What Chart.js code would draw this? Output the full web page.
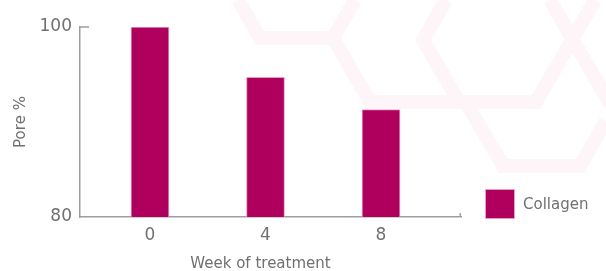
<!DOCTYPE html>
<html>
<head>
<meta charset="utf-8">
<script src="https://cdn.jsdelivr.net/npm/chart.js@4.4.1/dist/chart.umd.min.js"></script>
<style>
  html, body { margin: 0; padding: 0; background: #ffffff; }
  #wrap { position: relative; width: 606px; height: 271px; overflow: hidden; }
  #bg { position: absolute; left: 0; top: 0; }
  #c { position: absolute; left: 0; top: 0; }
</style>
</head>
<body>
<div id="wrap">
  <svg id="bg" width="606" height="271" viewBox="0 0 606 271">
    <g fill="none" stroke="#fef5f8" stroke-width="14" stroke-linejoin="miter">
      <polyline points="238,0 260,38 333,38 355,0"/>
      <polyline points="333,38 370,102 536,102 595,0"/>
      <polyline points="550,0 573,40 612,107"/>
      <polyline points="446,0 423,40 459,102"/>
      <polyline points="466,102 503,166 580,166 606,121"/>
    </g>
  </svg>
  <canvas id="c" width="606" height="271"></canvas>
</div>
<script>
// ---- data ----
const weeks = [0, 4, 8];
const weekLabels = ['0', '4', '8'];
const collagen = [100, 94.7, 91.3];
const yTicks = [80, 100];
const seriesName = 'Collagen';
const yTitle = 'Pore %';
const xTitle = 'Week of treatment';

// ---- style ----
const FONT = 'DejaVu Sans';
const TXT = '#707070';
const AXIS = '#9e9e9e';
const BAR = '#af005e';
const BAR_EDGE = '#e79cc3';

const decoPlugin = {
  id: 'deco',
  afterDraw(chart) {
    const ctx = chart.ctx;
    const ca = chart.chartArea;
    const ys = chart.scales.y;
    ctx.save();
    ctx.strokeStyle = AXIS;
    ctx.lineWidth = 1.5;
    const yTop = ys.getPixelForValue(yTicks[yTicks.length - 1]);
    ctx.beginPath();
    ctx.moveTo(ca.left, yTop);
    ctx.lineTo(ca.left + 9, yTop);
    ctx.stroke();
    ctx.beginPath();
    ctx.moveTo(ca.right - 0.75, ca.bottom);
    ctx.lineTo(ca.right - 0.75, ca.bottom - 4);
    ctx.stroke();
    ctx.fillStyle = TXT;
    ctx.font = '15px "' + FONT + '"';
    ctx.textAlign = 'center';
    ctx.textBaseline = 'alphabetic';
    ctx.fillText(xTitle, (ca.left + ca.right) / 2 - 10, 267.5);
    const ds = chart.data.datasets[0];
    const bx = ca.right + 24, by = ca.bottom - 28, bs = 30;
    ctx.fillStyle = ds.backgroundColor;
    ctx.fillRect(bx, by, bs, bs);
    ctx.strokeStyle = BAR_EDGE;
    ctx.lineWidth = 1;
    ctx.strokeRect(bx + 0.5, by + 0.5, bs - 1, bs - 1);
    ctx.fillStyle = TXT;
    ctx.textAlign = 'left';
    ctx.textBaseline = 'middle';
    ctx.fillText(ds.label, bx + bs + 8, by + bs / 2 + 1);
    ctx.restore();
  }
};

new Chart(document.getElementById('c'), {
  type: 'bar',
  data: {
    datasets: [{
      label: seriesName,
      data: weeks.map((w, i) => ({ x: w, y: collagen[i] })),
      backgroundColor: BAR,
      borderColor: BAR_EDGE,
      borderWidth: 1,
      barThickness: 38
    }]
  },
  options: {
    responsive: false,
    devicePixelRatio: 1,
    animation: false,
    layout: { padding: { left: 0, top: 27, right: 145, bottom: 0 } },
    plugins: { legend: { display: false }, tooltip: { enabled: false } },
    scales: {
      x: {
        type: 'linear',
        offset: false,
        min: -2.424,
        max: 10.77,
        afterBuildTicks: s => { s.ticks = weeks.map(v => ({ value: v })); },
        afterFit: s => { s.height = 54; },
        grid: { display: false },
        border: { display: true, color: AXIS, width: 1.5 },
        ticks: {
          autoSkip: false, maxRotation: 0,
          color: TXT, padding: 0,
          font: { family: FONT, size: 17 },
          callback: v => weekLabels[weeks.indexOf(v)]
        }
      },
      y: {
        min: 80,
        max: 100,
        afterBuildTicks: s => { s.ticks = yTicks.map(v => ({ value: v })); },
        afterFit: s => { s.width = 80; },
        grid: { display: false },
        border: { display: true, color: AXIS, width: 1.5 },
        ticks: {
          color: TXT, padding: 0,
          font: { family: FONT, size: 17 }
        },
        title: {
          display: true, text: yTitle, color: TXT,
          font: { family: FONT, size: 15 },
          padding: { top: 12, bottom: 0 }
        }
      }
    }
  },
  plugins: [decoPlugin]
});
</script>
</body>
</html>
